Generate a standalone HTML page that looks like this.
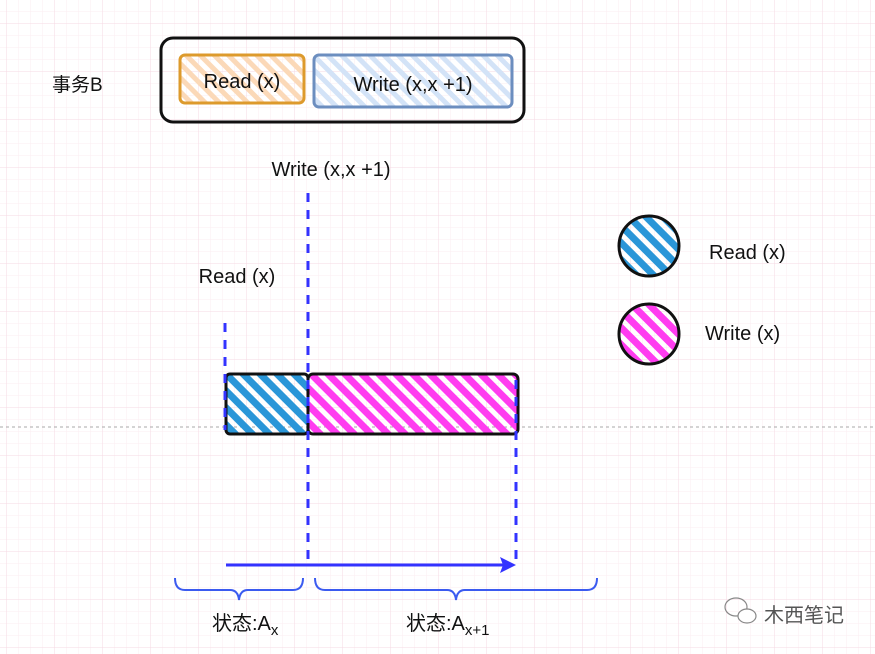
<!DOCTYPE html>
<html><head><meta charset="utf-8"><style>
html,body{margin:0;padding:0;background:#fff;}
svg{display:block;}
text{font-family:"Liberation Sans","Noto Sans CJK SC",sans-serif;fill:#111;}
</style></head><body>
<svg width="875" height="654" viewBox="0 0 875 654" xmlns="http://www.w3.org/2000/svg">
<defs>
<pattern id="minor" x="6" y="11" width="12" height="12" patternUnits="userSpaceOnUse">
<path d="M0 0H12M0 0V12" stroke="#fbeef2" stroke-width="1" fill="none"/>
</pattern>
<pattern id="major" x="6" y="23" width="48" height="48" patternUnits="userSpaceOnUse">
<path d="M0 0H48M0 0V48" stroke="#f5d9e3" stroke-width="1" fill="none"/>
</pattern>
<pattern id="hBlue" width="12" height="12" patternUnits="userSpaceOnUse" patternTransform="rotate(-45)">
<rect width="7" height="12" fill="#2a96d8"/></pattern>
<pattern id="hPink" width="12" height="12" patternUnits="userSpaceOnUse" patternTransform="rotate(-45)">
<rect width="7" height="12" fill="#ff3cf0"/></pattern>
<pattern id="hOrange" width="10" height="10" patternUnits="userSpaceOnUse" patternTransform="rotate(-45)">
<rect width="5" height="10" fill="#fbd9b8"/></pattern>
<pattern id="hLBlue" width="10" height="10" patternUnits="userSpaceOnUse" patternTransform="rotate(-45)">
<rect width="5" height="10" fill="#d3e3f7"/></pattern>
</defs>
<rect width="875" height="654" fill="#fff"/>
<rect width="875" height="654" fill="url(#minor)"/>
<rect width="875" height="654" fill="url(#major)"/>
<line x1="0" y1="427" x2="875" y2="427" stroke="#aaa" stroke-dasharray="3,3" stroke-width="1"/>

<text x="52" y="91" font-size="19">事务B</text>
<rect x="161" y="38" width="363" height="84" rx="12" fill="none" stroke="#111" stroke-width="3"/>
<rect x="180" y="55" width="124" height="48" rx="5" fill="url(#hOrange)" stroke="#dd9a2c" stroke-width="3"/>
<text x="242" y="88" font-size="20" text-anchor="middle">Read (x)</text>
<rect x="314" y="55" width="198" height="52" rx="5" fill="url(#hLBlue)" stroke="#6c8ebf" stroke-width="3"/>
<text x="413" y="91" font-size="20" text-anchor="middle">Write (x,x +1)</text>

<text x="331" y="176" font-size="20" text-anchor="middle">Write (x,x +1)</text>
<text x="237" y="283" font-size="20" text-anchor="middle">Read (x)</text>

<rect x="226" y="374" width="82" height="60" rx="4" fill="url(#hBlue)" stroke="#111" stroke-width="3"/>
<rect x="308" y="374" width="210" height="60" rx="5" fill="url(#hPink)" stroke="#111" stroke-width="3"/>

<line x1="225" y1="323" x2="225" y2="430" stroke="#3333ff" stroke-width="3" stroke-dasharray="9,8"/>
<line x1="308" y1="193" x2="308" y2="565" stroke="#3333ff" stroke-width="3" stroke-dasharray="9,8"/>
<line x1="516" y1="380" x2="516" y2="565" stroke="#3333ff" stroke-width="3" stroke-dasharray="9,8"/>
<line x1="226" y1="565" x2="504" y2="565" stroke="#3333ff" stroke-width="3"/>
<path d="M516 565 L500 557 L503 565 L500 573 Z" fill="#3333ff"/>

<path d="M175 578 Q175 590 185 590 L230 590 Q238 590 239 600 Q240 590 248 590 L293 590 Q303 590 303 578" fill="none" stroke="#3b5bf0" stroke-width="2"/>
<path d="M315 578 Q315 590 325 590 L447 590 Q455 590 456 600 Q457 590 465 590 L587 590 Q597 590 597 578" fill="none" stroke="#3b5bf0" stroke-width="2"/>
<text x="212" y="630" font-size="20">状态:A<tspan font-size="15" dy="5">x</tspan></text>
<text x="406" y="630" font-size="20">状态:A<tspan font-size="15" dy="5">x+1</tspan></text>

<circle cx="649" cy="246" r="30" fill="url(#hBlue)" stroke="#111" stroke-width="3"/>
<text x="709" y="259" font-size="20">Read (x)</text>
<circle cx="649" cy="334" r="30" fill="url(#hPink)" stroke="#111" stroke-width="3"/>
<text x="705" y="340" font-size="20">Write (x)</text>

<g fill="none" stroke="#888" stroke-width="1.2">
<ellipse cx="736" cy="607" rx="11" ry="9"/>
<ellipse cx="747" cy="616" rx="9" ry="7" fill="#fff"/>
</g>
<text x="764" y="622" font-size="20" style="fill:#555">木西笔记</text>
</svg>
</body></html>
